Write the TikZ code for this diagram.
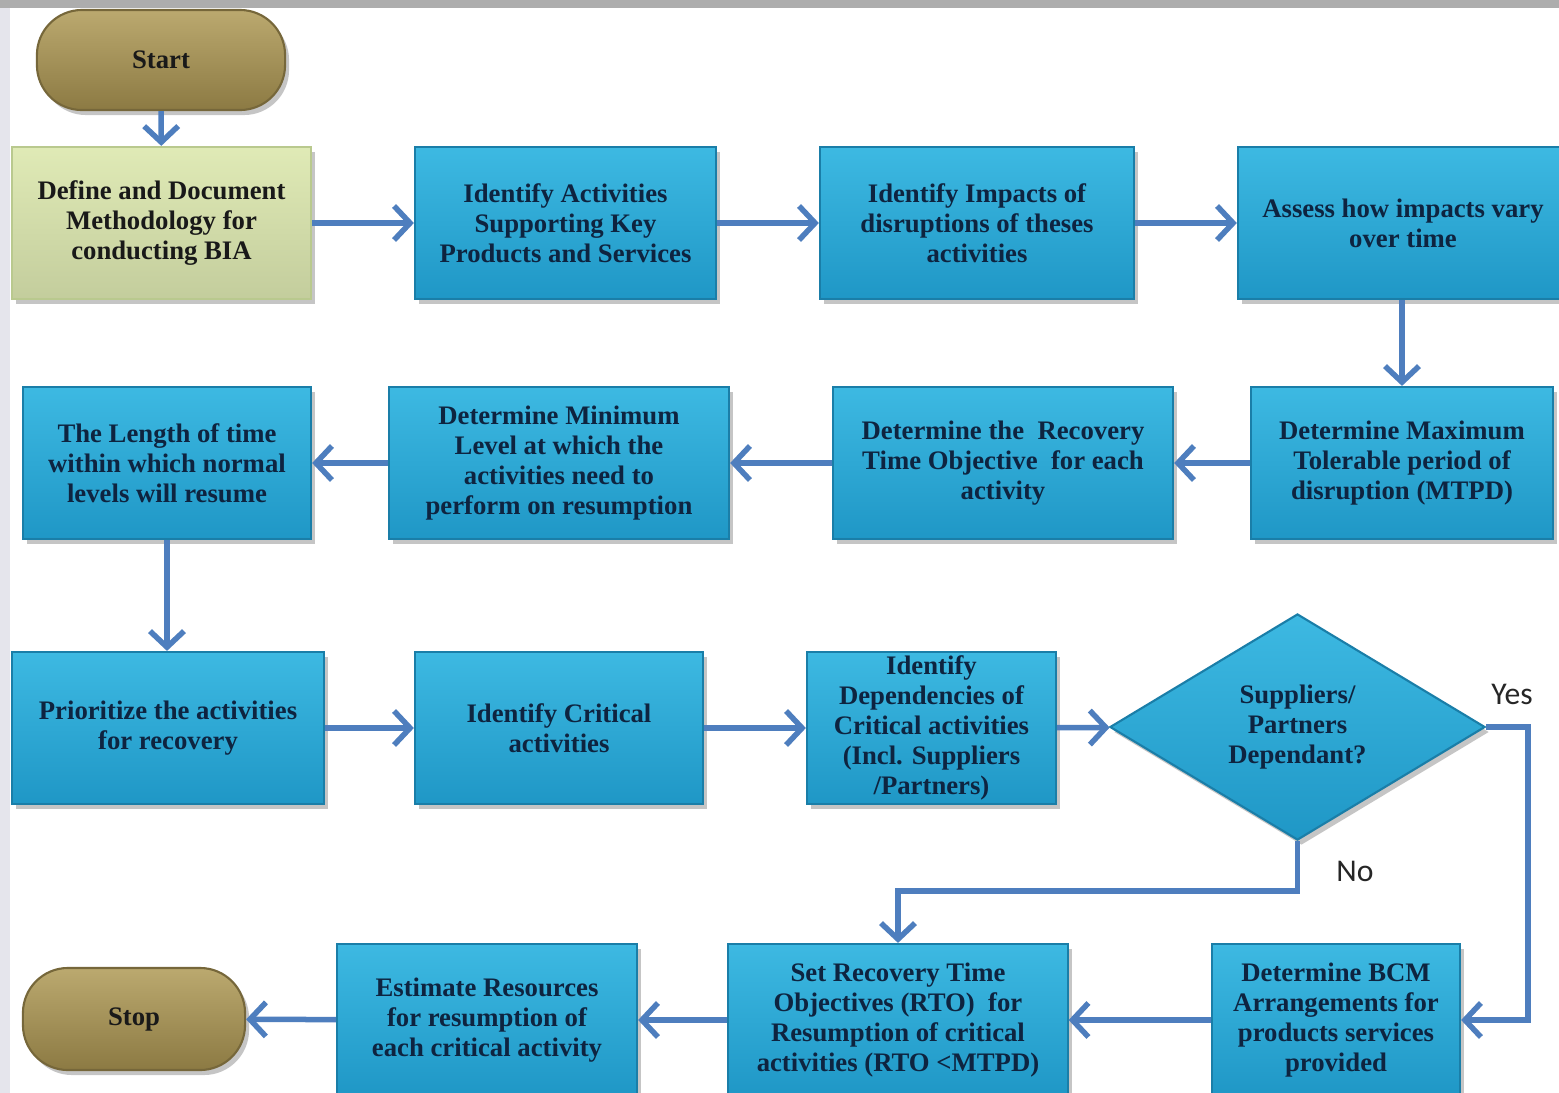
\documentclass[tikz,border=0pt]{standalone}
\usepackage{fontspec}
\setmainfont{Liberation Serif}
\newfontfamily\labelfont{Carlito}
\usetikzlibrary{arrows.meta,shapes.geometric,shadows}
\definecolor{boxtop}{HTML}{3DB9E2}
\definecolor{boxbot}{HTML}{1F97C6}
\definecolor{boxline}{HTML}{1A7EA8}
\definecolor{boxtext}{HTML}{0E2440}
\definecolor{flowline}{HTML}{4E7EBE}
\definecolor{termtop}{HTML}{BBA96F}
\definecolor{termbot}{HTML}{8C7A43}
\definecolor{termline}{HTML}{76673A}
\definecolor{greenbox}{HTML}{DEE9B2}
\definecolor{greenline}{HTML}{B9C98E}
\tikzset{
  stepbox/.style={rectangle,draw=boxline,line width=0.6pt,top color=boxtop,bottom color=boxbot,
    text=boxtext,align=center,inner sep=1pt,minimum height=1.52cm,
    font=\bfseries\fontsize{7.6}{8.5}\selectfont,
    drop shadow={shadow xshift=0.04cm,shadow yshift=-0.05cm,opacity=0.45}},
  termbox/.style={rectangle,rounded corners=0.45cm,draw=termline,line width=0.6pt,
    top color=termtop,bottom color=termbot,text=black!90,align=center,
    font=\bfseries\fontsize{7.6}{8.5}\selectfont,
    drop shadow={shadow xshift=0.04cm,shadow yshift=-0.05cm,opacity=0.45}},
  flow/.style={draw=flowline,line width=0.055cm,-{Straight Barb[length=1.6mm,width=3.4mm]}},
  answer/.style={font=\labelfont\fontsize{9}{10}\selectfont,text=black!85}
}
\begin{document}
\begin{tikzpicture}[x=0.01cm,y=-0.01cm]
    \useasboundingbox (0,0) rectangle (1559,1093);
    %% frame
    \fill[white] (0,0) rectangle (1559,1093);
    \fill[black!32] (0,0) rectangle (1559,8);
    \fill[blue!25!black!10] (0,8) rectangle (10,1093);
    %% first row
    \node[termbox,minimum width=2.48cm,minimum height=1.00cm] (start) at (161,60) {Start};
    \node[stepbox,minimum width=2.99cm,draw=greenline,top color=greenbox!95!white,bottom color=greenbox!88!black,text=black!90] (method) at (161.5,223) {Define and Document\\Methodology for\\conducting BIA};
    \node[stepbox,minimum width=3.01cm] (activities) at (565.5,223) {Identify Activities\\Supporting Key\\Products and Services};
    \node[stepbox,minimum width=3.14cm] (impacts) at (977,223) {Identify Impacts of\\disruptions of theses\\activities};
    \node[stepbox,minimum width=3.30cm] (vary) at (1403,223) {Assess how impacts vary\\over time};
    %% second row
    \node[stepbox,minimum width=3.02cm] (mtpd) at (1402,463) {Determine Maximum\\Tolerable period of\\disruption (MTPD)};
    \node[stepbox,minimum width=3.40cm] (rtoeach) at (1003,463) {Determine the\ \ Recovery\\Time Objective\ \ for each\\activity};
    \node[stepbox,minimum width=3.40cm] (minlevel) at (559,463) {Determine Minimum\\Level at which the\\activities need to\\perform on resumption};
    \node[stepbox,minimum width=2.88cm] (length) at (167,463) {The Length of time\\within which normal\\levels will resume};
    %% third row
    \node[stepbox,minimum width=3.12cm] (prio) at (168,728) {Prioritize the activities\\for recovery};
    \node[stepbox,minimum width=2.88cm] (critical) at (559,728) {Identify Critical\\activities};
    \node[stepbox,minimum width=2.49cm,inner ysep=0pt] (depend) at (931.5,728) {Identify\\Dependencies of\\Critical activities\\(Incl. Suppliers\\/Partners)};
    \node[stepbox,shape=diamond,minimum width=3.75cm,minimum height=2.26cm,inner sep=0pt] (suppliers) at (1297.5,727) {Suppliers/\\Partners\\Dependant?};
    %% last row
    \node[stepbox,minimum width=2.48cm] (bcm) at (1336,1020) {Determine BCM\\Arrangements for\\products services\\provided};
    \node[stepbox,minimum width=3.39cm] (setrto) at (898,1020) {Set Recovery Time\\Objectives (RTO)\ \ for\\Resumption of critical\\activities (RTO <MTPD)};
    \node[stepbox,minimum width=3.00cm] (resources) at (487,1020) {Estimate Resources\\for resumption of\\each critical activity};
    \node[termbox,minimum width=2.22cm,minimum height=1.02cm] (stop) at (134,1019) {Stop};
    %% arrows
    \draw[flow] (start) -- (method);
    \draw[flow] (method) -- (activities);
    \draw[flow] (activities) -- (impacts);
    \draw[flow] (impacts) -- (vary);
    \draw[flow] (vary.south -| mtpd) -- (mtpd.north);
    \draw[flow] (mtpd) -- (rtoeach);
    \draw[flow] (rtoeach) -- (minlevel);
    \draw[flow] (minlevel) -- (length);
    \draw[flow] (length) -- (length |- prio.north);
    \draw[flow] (prio) -- (critical);
    \draw[flow] (critical) -- (depend);
    \draw[flow] (depend) -- (suppliers);
    \draw[flow] (suppliers.east) -- ++(42,0) coordinate (yesturn) |- (bcm.east);
    \draw[flow] (suppliers.south) -- ++(0,50) coordinate (noturn) -| (setrto.north);
    \draw[flow] (bcm) -- (setrto);
    \draw[flow] (setrto) -- (resources);
    \draw[flow] (resources) -- (stop);
    %% labels
    \node[answer] (yes) at (1512,694) {Yes};
    \node[answer] (no) at (1355,871) {No};
\end{tikzpicture}
\end{document}
